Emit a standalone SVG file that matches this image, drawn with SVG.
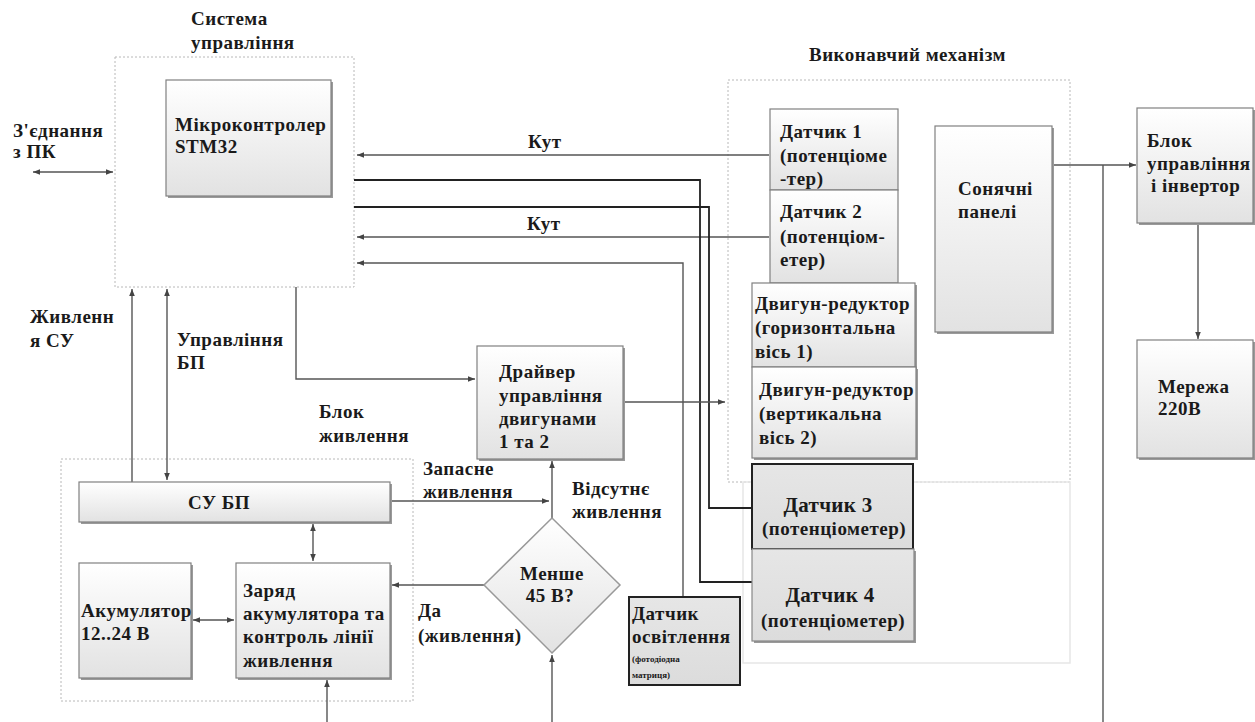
<svg xmlns="http://www.w3.org/2000/svg" width="1255" height="722" viewBox="0 0 1255 722" font-family="Liberation Serif, DejaVu Serif, serif">
<defs>
  <linearGradient id="g" x1="0" y1="0" x2="0" y2="1">
    <stop offset="0" stop-color="#ffffff"/>
    <stop offset="1" stop-color="#e2e2e2"/>
  </linearGradient>
  <linearGradient id="gd" x1="0" y1="0" x2="0" y2="1">
    <stop offset="0" stop-color="#e6e6e6"/>
    <stop offset="1" stop-color="#dcdcdc"/>
  </linearGradient>
  <marker id="ah" viewBox="0 0 10 10" refX="10" refY="5" markerWidth="7" markerHeight="7" orient="auto-start-reverse" markerUnits="userSpaceOnUse">
    <path d="M0,1 L10,5 L0,9 z" fill="#444"/>
  </marker>
</defs>
<style>
  text { font-family: 'Liberation Serif', 'DejaVu Serif', serif; font-weight: 700; font-size: 19px; letter-spacing: 0.5px; fill: #1a1a1a; }
  .sm { font-size: 9px; letter-spacing: 0; }
  .big { font-size: 21px; letter-spacing: 0.3px; }
  .c { text-anchor: middle; }
  .box { fill: url(#g); stroke: #808080; stroke-width: 1.2; }
  .sh { fill: #9a9a9a; }
  .dbox { fill: url(#gd); stroke: #222; stroke-width: 2; }
  .grp { fill: none; stroke: #b8b8b8; stroke-width: 1; stroke-dasharray: 2 2; }
  .faint { fill: none; stroke: #e6e6e6; stroke-width: 1.5; }
  .ln { fill: none; stroke: #555; stroke-width: 1.4; }
  .lk { fill: none; stroke: #222; stroke-width: 1.8; }
  .a { marker-end: url(#ah); }
  .aa { marker-start: url(#ah); marker-end: url(#ah); }
</style>

<!-- group containers -->
<g id="grp-su">
  <rect class="grp" x="115" y="57" width="239" height="230"/>
  <text x="191" y="25">Система</text>
  <text x="191" y="49">управління</text>
</g>
<g id="grp-vm">
  <rect class="grp" x="728" y="80" width="342" height="402"/>
  <rect class="faint" x="743" y="482" width="327" height="181"/>
  <text x="809" y="61">Виконавчий механізм</text>
</g>
<g id="grp-bz">
  <rect class="grp" x="61" y="459" width="352" height="242"/>
  <text x="319" y="418">Блок</text>
  <text x="319" y="442">живлення</text>
</g>

<!-- connectors -->
<g id="connectors">
  <line class="ln aa" x1="33" y1="172" x2="113" y2="172"/>
  <line class="ln a" x1="769" y1="155" x2="357" y2="155"/>
  <line class="ln a" x1="769" y1="237" x2="357" y2="237"/>
  <polyline class="lk" points="354,180 700,180 700,582 752,582"/>
  <polyline class="lk" points="354,207 709,207 709,508 752,508"/>
  <polyline class="ln a" points="683,597 683,263 357,263"/>
  <line class="ln a" x1="132" y1="482" x2="132" y2="289"/>
  <line class="ln aa" x1="167" y1="289" x2="167" y2="480"/>
  <polyline class="ln a" points="296,287 296,379 475,379"/>
  <line class="ln a" x1="623" y1="402" x2="725" y2="402"/>
  <line class="ln a" x1="390" y1="501" x2="549" y2="501"/>
  <line class="ln a" x1="552" y1="518" x2="552" y2="461"/>
  <line class="ln a" x1="484" y1="585" x2="392" y2="585"/>
  <line class="ln a" x1="552" y1="722" x2="552" y2="655"/>
  <line class="ln a" x1="327" y1="722" x2="327" y2="680"/>
  <line class="ln aa" x1="313" y1="524" x2="313" y2="561"/>
  <line class="ln aa" x1="193" y1="620" x2="234" y2="620"/>
  <line class="ln a" x1="1052" y1="165" x2="1136" y2="165"/>
  <line class="ln" x1="1103" y1="165" x2="1103" y2="722" stroke="#888"/>
  <line class="ln a" x1="1198" y1="223" x2="1198" y2="339"/>
  <text x="528" y="148">Кут</text>
  <text x="527" y="230">Кут</text>
  <text x="13" y="137">З'єднання</text>
  <text x="13" y="158">з ПК</text>
  <text x="30" y="323">Живленн</text>
  <text x="30" y="347">я СУ</text>
  <text x="177" y="346">Управління</text>
  <text x="177" y="369">БП</text>
  <text x="423" y="475">Запасне</text>
  <text x="423" y="498">живлення</text>
  <text x="572" y="495">Відсутнє</text>
  <text x="572" y="518">живлення</text>
  <text x="418" y="617">Да</text>
  <text x="418" y="642">(живлення)</text>
</g>

<!-- nodes -->
<g id="n-mcu">
  <rect class="sh" x="168" y="82" width="165" height="116"/>
  <rect class="box" x="166" y="80" width="165" height="116"/>
  <text x="175" y="131">Мікроконтролер</text>
  <text x="175" y="153">STM32</text>
</g>
<g id="n-subp">
  <rect class="sh" x="81" y="484" width="311" height="40"/>
  <rect class="box" x="79" y="482" width="311" height="40"/>
  <text x="219" y="509" class="c">СУ БП</text>
</g>
<g id="n-akum">
  <rect class="sh" x="81" y="565" width="112" height="115"/>
  <rect class="box" x="79" y="563" width="112" height="115"/>
  <text x="81" y="617">Акумулятор</text>
  <text x="81" y="640">12..24 В</text>
</g>
<g id="n-zaryad">
  <rect class="sh" x="238" y="565" width="154" height="115"/>
  <rect class="box" x="236" y="563" width="154" height="115"/>
  <text x="243" y="597">Заряд</text>
  <text x="243" y="620">акумулятора та</text>
  <text x="243" y="643">контроль лінії</text>
  <text x="243" y="667">живлення</text>
</g>
<g id="n-driver">
  <rect class="sh" x="479" y="348" width="146" height="113"/>
  <rect class="box" x="477" y="346" width="146" height="113"/>
  <text x="499" y="378">Драйвер</text>
  <text x="499" y="402">управління</text>
  <text x="499" y="425">двигунами</text>
  <text x="499" y="448">1 та 2</text>
</g>
<g id="n-decision">
  <polygon points="552,518 620,585 552,653 484,585" fill="url(#g)" stroke="#999" stroke-width="1.5"/>
  <text x="552" y="580" class="c">Менше</text>
  <text x="550" y="602" class="c">45 В?</text>
</g>
<g id="n-light">
  <rect class="dbox" x="629" y="597" width="111" height="88"/>
  <text x="632" y="620">Датчик</text>
  <text x="632" y="643">освітлення</text>
  <text x="632" y="662" class="sm">(фотодіодна</text>
  <text x="632" y="678" class="sm">матриця)</text>
</g>
<g id="n-d1">
  <rect class="box" x="770" y="109" width="128" height="81"/>
  <text x="780" y="138">Датчик 1</text>
  <text x="780" y="162">(потенціоме</text>
  <text x="780" y="185">-тер)</text>
</g>
<g id="n-d2">
  <rect class="box" x="770" y="190" width="128" height="93"/>
  <text x="780" y="218">Датчик 2</text>
  <text x="780" y="243">(потенціом-</text>
  <text x="780" y="266">етер)</text>
</g>
<g id="n-m1">
  <rect class="sh" x="754" y="285" width="163" height="84"/>
  <rect class="box" x="752" y="283" width="163" height="84"/>
  <text x="755" y="310">Двигун-редуктор</text>
  <text x="755" y="334">(горизонтальна</text>
  <text x="755" y="358">вісь 1)</text>
</g>
<g id="n-m2">
  <rect class="sh" x="754" y="369" width="164" height="91"/>
  <rect class="box" x="752" y="367" width="164" height="91"/>
  <text x="759" y="396">Двигун-редуктор</text>
  <text x="759" y="420">(вертикальна</text>
  <text x="759" y="444">вісь 2)</text>
</g>
<g id="n-solar">
  <rect class="sh" x="937" y="128" width="117" height="206"/>
  <rect class="box" x="935" y="126" width="117" height="206"/>
  <text x="958" y="195">Сонячні</text>
  <text x="958" y="218">панелі</text>
</g>
<g id="n-d3">
  <rect class="dbox" x="752" y="464" width="161" height="85"/>
  <text x="828" y="512" class="c big">Датчик 3</text>
  <text x="834" y="535" class="c">(потенціометер)</text>
</g>
<g id="n-d4">
  <rect class="sh" x="754" y="551" width="162" height="92"/>
  <rect x="752" y="549" width="162" height="92" fill="url(#gd)" stroke="#888" stroke-width="1.2"/>
  <text x="830" y="602" class="c big">Датчик 4</text>
  <text x="833" y="627" class="c">(потенціометер)</text>
</g>
<g id="n-inv">
  <rect class="sh" x="1139" y="110" width="116" height="115"/>
  <rect class="box" x="1137" y="108" width="116" height="115"/>
  <text x="1147" y="147">Блок</text>
  <text x="1147" y="170">управління</text>
  <text x="1151" y="192">і інвертор</text>
</g>
<g id="n-grid">
  <rect class="sh" x="1139" y="342" width="116" height="118"/>
  <rect class="box" x="1137" y="340" width="116" height="118"/>
  <text x="1158" y="393">Мережа</text>
  <text x="1158" y="415">220В</text>
</g>
</svg>
